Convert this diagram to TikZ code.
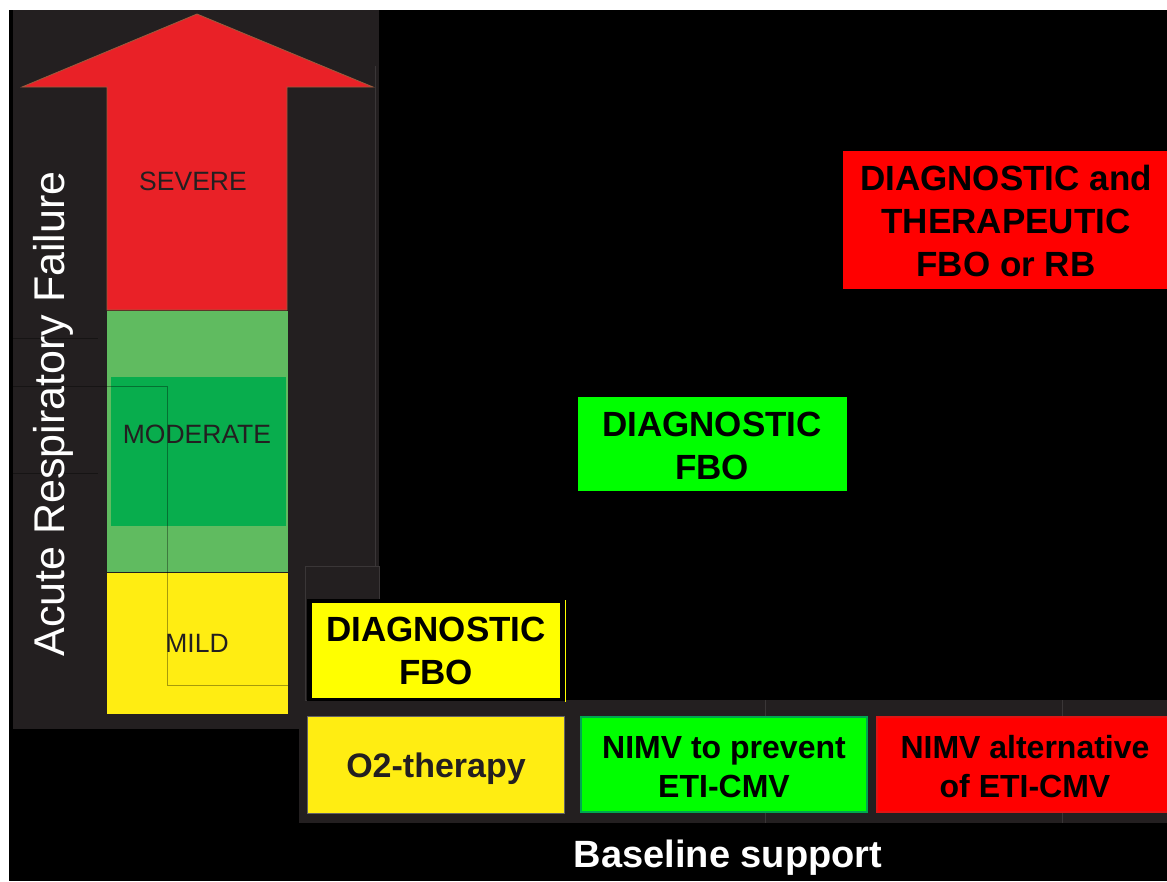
\documentclass[tikz,border=0pt]{standalone}
\usepackage{fontspec}
\setmainfont{Liberation Sans}
\definecolor{panel}{HTML}{231F20}
\definecolor{arrowred}{HTML}{E92127}
\definecolor{arrowedge}{HTML}{9A5C3E}
\definecolor{lgreen}{HTML}{60BB60}
\definecolor{dgreen}{HTML}{08AD4D}
\definecolor{myellow}{HTML}{FFED12}
\definecolor{byellow}{HTML}{FFFF00}
\definecolor{bgreen}{HTML}{00FF00}
\definecolor{bgreenedge}{HTML}{00A651}
\definecolor{bred}{HTML}{FF0000}
\definecolor{brededge}{HTML}{E01414}
\definecolor{artline}{HTML}{3A3637}
\tikzset{
  levellabel/.style={text=panel, font=\fontsize{26.5}{30}\selectfont, inner sep=0pt},
  boxtext/.style={text=black, align=center, inner sep=0pt,
    font=\bfseries\fontsize{35}{43}\selectfont},
  nimvtext/.style={text=black, align=center, inner sep=0pt,
    font=\bfseries\fontsize{32}{39}\selectfont},
  artifact/.style={draw=artline, line width=0.5pt},
  faintline/.style={draw=black, line width=0.5pt, opacity=0.35},
}
\begin{document}
\begin{tikzpicture}[x=1pt,y=-1pt]
\useasboundingbox (0,0) rectangle (1167,881);
\fill[white] (0,0) rectangle (1167,881);
\fill[black] (9,10) rectangle (1167,881);
% left panel
\fill[panel] (13,10) rectangle (379,729);
\draw[artifact] (375,66) -- (375,729);
% arrow and levels
\filldraw[fill=arrowred, draw=arrowedge, line width=0.8pt]
  (197,14) -- (373,87) -- (287,87) -- (287,310) -- (107,310) -- (107,87) -- (22,87) -- cycle;
\fill[lgreen] (107,311) rectangle (288,572);
\fill[dgreen] (111,377) rectangle (286,526);
\fill[myellow] (107,573) rectangle (288,714);
\draw[faintline] (13,386) -- (167,386) -- (167,685) -- (288,685);
\draw[faintline] (13,338) -- (98,338);
\draw[faintline] (13,473) -- (98,473);
\node[levellabel] (severe) at (193,181) {SEVERE};
\node[levellabel] (moderate) at (197,434) {MODERATE};
\node[levellabel] (mild) at (197,643) {MILD};
\node[rotate=90, anchor=base, text=white, inner sep=0pt,
  font=\fontsize{43}{50}\selectfont] (arf) at (64,414) {Acute Respiratory Failure};
% bottom band
\fill[panel] (299,700) rectangle (1167,823);
\fill[panel] (303,566) rectangle (379,700);
\draw[artifact] (305,566) rectangle (379,700);
\draw[artifact] (765,700) -- (765,823);
\draw[artifact] (1062,700) -- (1062,823);
% yellow diagnostic box
\fill[black] (307,599) rectangle (565,701);
\fill[byellow] (312,603) rectangle (560,698);
\draw[byellow, line width=0.8pt] (565,600) -- (565,702);
\node[boxtext] (diagY) at (436,651) {DIAGNOSTIC\\FBO};
% baseline support boxes
\filldraw[fill=myellow, draw=gray!70!panel, line width=0.8pt] (307,716) rectangle (564,813);
\node[text=panel, inner sep=0pt, font=\bfseries\fontsize{34}{40}\selectfont] (o2) at (436,769) {O2-therapy};
\filldraw[fill=bgreen, draw=bgreenedge, line width=2.5pt] (581,717) rectangle (867,812);
\node[nimvtext] (nimvG) at (724,767) {NIMV to prevent\\ETI-CMV};
\filldraw[fill=bred, draw=brededge, line width=2pt] (877,717) rectangle (1168,812);
\node[nimvtext] (nimvR) at (1025,767) {NIMV alternative\\of ETI-CMV};
% upper boxes
\fill[bgreen] (578,397) rectangle (847,491);
\node[boxtext] (diagG) at (712,446) {DIAGNOSTIC\\FBO};
\fill[bred] (843,151) rectangle (1167,289);
\node[boxtext] (diagR) at (1006,221) {DIAGNOSTIC and\\THERAPEUTIC\\FBO or RB};
% axis label
\node[text=white, inner sep=0pt, font=\bfseries\fontsize{38}{44}\selectfont] (base) at (728,858) {Baseline support};
\end{tikzpicture}
\end{document}
